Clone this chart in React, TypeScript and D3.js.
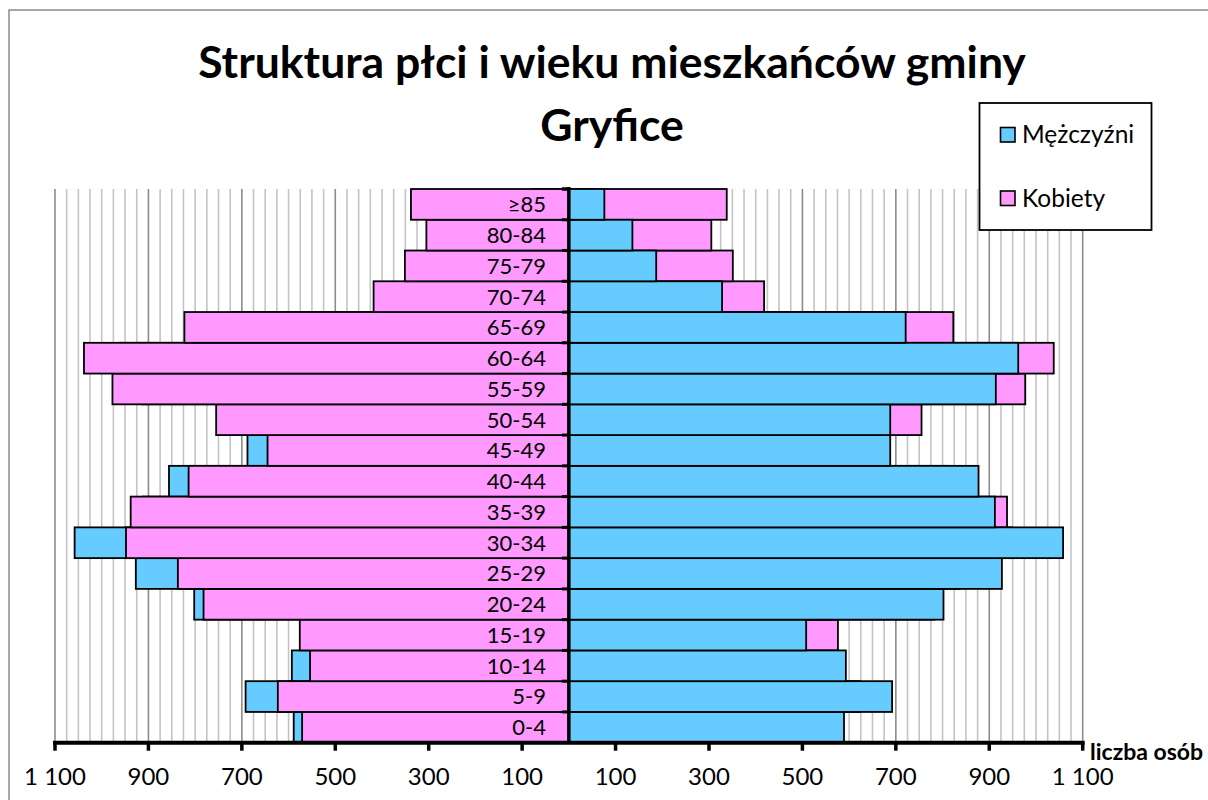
import { useEffect, useRef } from "react";
import * as d3 from "d3";

const ageGroups = [
  "0-4", "5-9", "10-14", "15-19", "20-24", "25-29", "30-34", "35-39", "40-44",
  "45-49", "50-54", "55-59", "60-64", "65-69", "70-74", "75-79", "80-84", "≥85",
];

// Mężczyźni (right half) and the copy of the series on the left half
const men = [589, 692, 593, 508, 802, 927, 1058, 912, 877, 688, 688, 914, 962, 721, 328, 187, 136, 76];
const menLeft = [589, 692, 593, 508, 802, 927, 1058, 912, 856, 688, 688, 914, 962, 721, 328, 187, 136, 76];
// Kobiety
const women = [571, 623, 554, 576, 782, 837, 948, 938, 814, 645, 755, 977, 1038, 823, 418, 351, 305, 338];

const xTicks = [-1100, -900, -700, -500, -300, -100, 100, 300, 500, 700, 900, 1100];

const BLUE = "#66CCFF";
const PINK = "#FF99FF";
const FONT = "Lato, 'Open Sans', sans-serif";

export default function App() {
  const svgRef = useRef<SVGSVGElement>(null);

  useEffect(() => {
    if (!svgRef.current) return;
    const svg = d3.select(svgRef.current);
    svg.selectAll("*").remove();

    const x = d3.scaleLinear().domain([-1100, 1100]).range([55, 1082.7]);
    const y = d3
      .scaleBand<string>()
      .domain(ageGroups)
      .range([742.7, 189])
      .padding(0);

    svg.append("rect").attr("width", 1208).attr("height", 800).attr("fill", "#fff");
    svg
      .append("rect")
      .attr("x", 9)
      .attr("y", 10)
      .attr("width", 1300)
      .attr("height", 900)
      .attr("fill", "none")
      .attr("stroke", "#8a8a8a")
      .attr("stroke-width", 1.5);

    // grid: minor every 25, major every 200 from -1100
    const minor = d3.range(-1100, 1101, 25);
    svg
      .append("g")
      .selectAll("line")
      .data(minor)
      .join("line")
      .attr("x1", (d) => x(d))
      .attr("x2", (d) => x(d))
      .attr("y1", y.range()[1])
      .attr("y2", y.range()[0])
      .attr("stroke", (d) => ((d + 1100) % 200 === 0 ? "#8c8c8c" : "#c4c4c4"))
      .attr("stroke-width", 1.6);

    const drawBars = (vals: number[], sign: number, color: string) => {
      svg
        .append("g")
        .selectAll("rect")
        .data(ageGroups)
        .join("rect")
        .attr("x", (_, i) => (sign < 0 ? x(-vals[i]) : x(0)))
        .attr("width", (_, i) => Math.abs(x(vals[i]) - x(0)))
        .attr("y", (d) => y(d)!)
        .attr("height", y.bandwidth())
        .attr("fill", color)
        .attr("stroke", "#000")
        .attr("stroke-width", 1.8);
    };

    drawBars(menLeft, -1, BLUE);
    drawBars(women, -1, PINK);
    drawBars(women, 1, PINK);
    drawBars(men, 1, BLUE);

    // category labels
    svg
      .append("g")
      .selectAll("text")
      .data(ageGroups)
      .join("text")
      .attr("x", 546)
      .attr("y", (d) => y(d)! + y.bandwidth() / 2)
      .attr("dy", "0.36em")
      .attr("text-anchor", "end")
      .attr("font-family", FONT)
      .attr("font-size", 22)
      .attr("fill", "#000")
      .text((d) => d);

    // vertical category axis at 0
    const cx = x(0);
    svg
      .append("line")
      .attr("x1", cx)
      .attr("x2", cx)
      .attr("y1", y.range()[1] - 2)
      .attr("y2", y.range()[0])
      .attr("stroke", "#000")
      .attr("stroke-width", 3.5);
    const bounds = ageGroups.map((d) => y(d)!).concat([y.range()[1]]);
    svg
      .append("g")
      .selectAll("line")
      .data(bounds)
      .join("line")
      .attr("x1", cx - 7)
      .attr("x2", cx)
      .attr("y1", (d) => d)
      .attr("y2", (d) => d)
      .attr("stroke", "#000")
      .attr("stroke-width", 3);

    // x axis
    const axisY = y.range()[0];
    svg
      .append("line")
      .attr("x1", x(-1100) - 2)
      .attr("x2", x(1100) + 2)
      .attr("y1", axisY)
      .attr("y2", axisY)
      .attr("stroke", "#000")
      .attr("stroke-width", 4);
    const fmt = (v: number) => d3.format(",")(Math.abs(v)).replace(/,/g, " ");
    const tk = svg.append("g").selectAll("g").data(xTicks).join("g");
    tk.append("line")
      .attr("x1", (d) => x(d))
      .attr("x2", (d) => x(d))
      .attr("y1", axisY)
      .attr("y2", axisY + 8)
      .attr("stroke", "#000")
      .attr("stroke-width", 3.5);
    tk.append("text")
      .attr("x", (d) => x(d))
      .attr("y", 785)
      .attr("text-anchor", "middle")
      .attr("font-family", FONT)
      .attr("font-size", 24)
      .attr("fill", "#000")
      .text(fmt);

    svg
      .append("text")
      .attr("x", 1090)
      .attr("y", 760)
      .attr("font-family", FONT)
      .attr("font-size", 23)
      .attr("font-weight", 700)
      .attr("fill", "#000")
      .text("liczba osób");

    // title
    svg
      .append("text")
      .attr("x", 612)
      .attr("y", 78)
      .attr("text-anchor", "middle")
      .attr("font-family", FONT)
      .attr("font-size", 44.5)
      .attr("font-weight", 700)
      .attr("fill", "#000")
      .text("Struktura płci i wieku mieszkańców gminy");
    svg
      .append("text")
      .attr("x", 612)
      .attr("y", 141)
      .attr("text-anchor", "middle")
      .attr("font-family", FONT)
      .attr("font-size", 44.5)
      .attr("font-weight", 700)
      .attr("fill", "#000")
      .text("Gryfice");

    // legend
    const lg = svg.append("g");
    lg.append("rect")
      .attr("x", 979.5)
      .attr("y", 103)
      .attr("width", 172)
      .attr("height", 127)
      .attr("fill", "#fff")
      .attr("stroke", "#000")
      .attr("stroke-width", 1.8);
    const items = [
      { name: "Mężczyźni", color: BLUE, y: 127.5 },
      { name: "Kobiety", color: PINK, y: 191 },
    ];
    items.forEach((it) => {
      lg.append("rect")
        .attr("x", 1000.5)
        .attr("y", it.y)
        .attr("width", 14.5)
        .attr("height", 14.5)
        .attr("fill", it.color)
        .attr("stroke", "#000")
        .attr("stroke-width", 1.6);
      lg.append("text")
        .attr("x", 1022)
        .attr("y", it.y + 15.5)
        .attr("font-family", FONT)
        .attr("font-size", 24.5)
        .attr("fill", "#000")
        .text(it.name);
    });
  }, []);

  return (
    <svg
      ref={svgRef}
      width={1208}
      height={800}
      style={{ position: "absolute", left: 0, top: 0, display: "block" }}
    />
  );
}
